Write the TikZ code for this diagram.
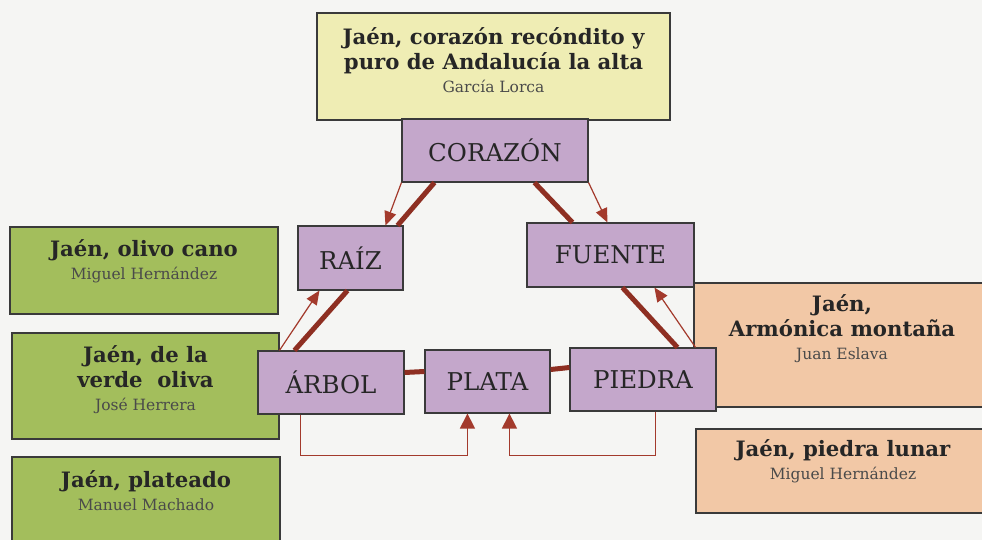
\documentclass[tikz,border=0pt]{standalone}
\usepackage{fontspec}
\setmainfont{DejaVu Serif}
\usetikzlibrary{arrows.meta}
\definecolor{bg}{HTML}{F5F5F3}
\definecolor{lila}{HTML}{C4A7CB}
\definecolor{amar}{HTML}{EFEDB4}
\definecolor{verde}{HTML}{A3BE5C}
\definecolor{melo}{HTML}{F2C8A6}
\definecolor{rojo}{HTML}{8E2F22}
\definecolor{rojoclaro}{HTML}{A33A2C}
\definecolor{borde}{HTML}{3A3A3A}
\definecolor{tinta}{HTML}{262626}
\definecolor{gris}{HTML}{4A4A4A}
\newcommand\AutorTxt[1]{{\fontsize{15.5}{18}\selectfont\mdseries\color{gris}#1}}
\newcommand\PrimeraLinea{\rule{0pt}{20pt}}
\begin{document}
\begin{tikzpicture}[x=1pt,y=-1pt,
  pbox/.style={draw=borde,line width=1.1pt,fill=lila,inner sep=0pt,text=tinta,
    font=\fontsize{24.5}{29}\selectfont},
  qbox/.style={draw=borde,line width=1.1pt,fill=#1,inner sep=0pt},
  ttl/.style={align=center,inner sep=0pt,anchor=north,text=tinta,
    font=\fontsize{21.2}{25}\selectfont\bfseries},
  gruesa/.style={draw=rojo,line width=5pt},
  fina/.style={draw=rojoclaro,line width=1.2pt,-{Triangle[length=14pt,width=12pt]}},
  baja/.style={draw=rojoclaro,line width=1.5pt,-{Triangle[length=15pt,width=15pt]}}]
\useasboundingbox (0,0) rectangle (982,540);
\clip (0,0) rectangle (982,540);
\fill[bg] (0,0) rectangle (982,540);

% side boxes
\node[qbox=amar,minimum width=353pt,minimum height=107pt] (ya) at (493.5,66.5) {};
\node[ttl] (yat) at ([yshift=-12]ya.north) {\PrimeraLinea Jaén, corazón recóndito y\\puro de Andalucía la alta\\[-2pt]\AutorTxt{García Lorca}};

\node[qbox=verde,minimum width=268pt,minimum height=87pt] (g1) at (144,270.5) {};
\node[ttl] (g1t) at ([yshift=-10]g1.north) {\PrimeraLinea Jaén, olivo cano\\[-2pt]\AutorTxt{Miguel Hernández}};

\node[qbox=verde,minimum width=267pt,minimum height=106pt] (g2) at (145.5,386) {};
\node[ttl] (g2t) at ([yshift=-10]g2.north) {\PrimeraLinea Jaén, de la\\verde\ \ oliva\\[-2pt]\AutorTxt{José Herrera}};

\node[qbox=verde,minimum width=268pt,minimum height=103pt] (g3) at (146,508.5) {};
\node[ttl] (g3t) at ([yshift=-11]g3.north) {\PrimeraLinea Jaén, plateado\\[-2pt]\AutorTxt{Manuel Machado}};

\node[qbox=melo,minimum width=296pt,minimum height=124pt] (m1) at (842,345) {};
\node[ttl] (m1t) at ([yshift=-9]m1.north) {\PrimeraLinea Jaén,\\Armónica montaña\\[-2pt]\AutorTxt{Juan Eslava}};

\node[qbox=melo,minimum width=294pt,minimum height=84pt] (m2) at (843,471) {};
\node[ttl] (m2t) at ([yshift=-8]m2.north) {\PrimeraLinea Jaén, piedra lunar\\[-2pt]\AutorTxt{Miguel Hernández}};

% purple boxes
\node[pbox,minimum width=186pt,minimum height=63pt] (cor) at (495,150.5) {CORAZÓN};
\node[pbox,minimum width=105pt,minimum height=64pt] (raiz) at (350.5,258) {RAÍZ};
\node[pbox,minimum width=167pt,minimum height=64pt] (fue) at (610.5,255) {FUENTE};
\node[pbox,minimum width=146pt,minimum height=63pt] (arb) at (331,382.5) {ÁRBOL};
\node[pbox,minimum width=125pt,minimum height=63pt] (pla) at (487.5,381.5) {PLATA};
\node[pbox,minimum width=146pt,minimum height=63pt] (pie) at (643,379.5) {PIEDRA};

% thick links
\draw[gruesa] ([xshift=33]cor.south west) -- ([xshift=-6]raiz.north east);
\draw[gruesa] ([xshift=133]cor.south west) -- ([xshift=46]fue.north west);
\draw[gruesa] ([xshift=37]arb.north west) -- ([xshift=50]raiz.south west);
\draw[gruesa] ([xshift=108]pie.north west) -- ([xshift=96]fue.south west);
\draw[gruesa] ([yshift=10]arb.east) -- ([yshift=10]pla.west);
\draw[gruesa] ([yshift=12]pla.east) -- ([yshift=12]pie.west);

% thin arrows
\draw[fina] (cor.south west) -- ([xshift=88]raiz.north west);
\draw[fina] (cor.south east) -- ([xshift=81]fue.north west);
\draw[fina] ([xshift=22]arb.north west) -- ([xshift=22]raiz.south west);
\draw[fina] ([xshift=-21]pie.north east) -- ([xshift=128]fue.south west);

% bottom arrows
\draw[baja] ([xshift=43]arb.south west) |- ([xshift=43,yshift=-42]pla.south west) -- ([xshift=43]pla.south west);
\draw[baja] ([xshift=86]pie.south west) |- ([xshift=85,yshift=-42]pla.south west) -- ([xshift=85]pla.south west);
\end{tikzpicture}
\end{document}
